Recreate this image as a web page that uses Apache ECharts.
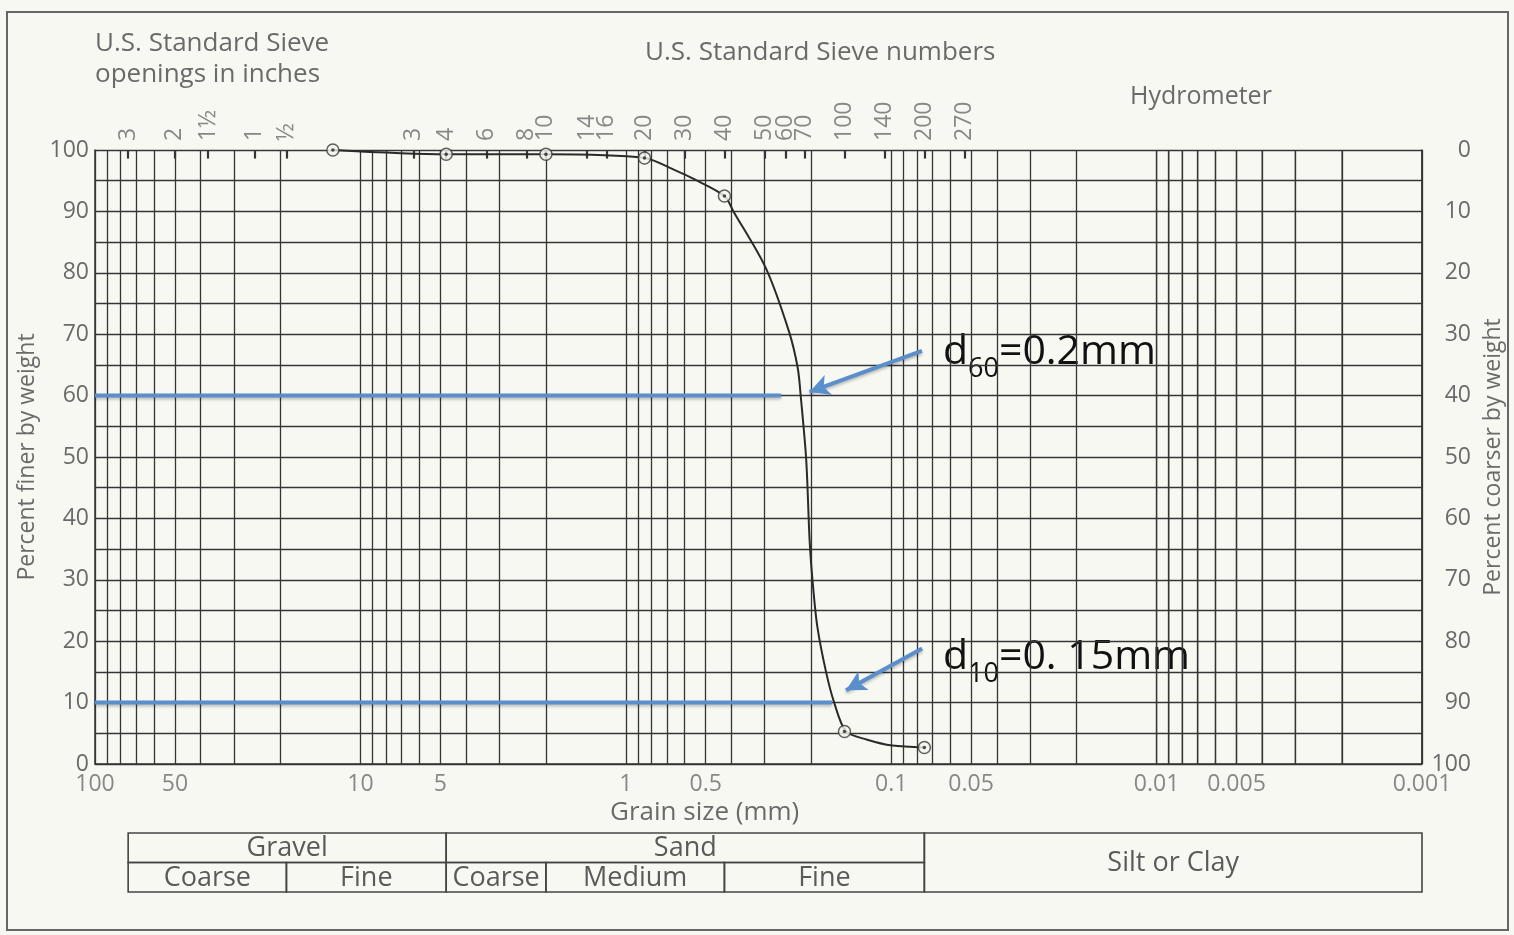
<!DOCTYPE html>
<html>
<head>
<meta charset="utf-8">
<script src="https://cdn.jsdelivr.net/npm/echarts@6/dist/echarts.min.js"></script>
<style>
html,body{margin:0;padding:0;background:#f8f8f3;}
#main{width:1514px;height:935px;}
</style>
</head>
<body>
<div id="main"></div>
<script>
// ---- data ----
const sieveSize = [12.7, 4.75, 2.0, 0.85, 0.425, 0.15, 0.075];          // mm
const percentFiner = [100, 99.3, 99.3, 98.7, 92.5, 5.3, 2.7];

const curveSize = [12.7, 4.75, 2.0, 0.85, 0.66, 0.55, 0.425, 0.393, 0.297, 0.243, 0.225, 0.219, 0.209, 0.203, 0.198, 0.19, 0.176, 0.164, 0.148, 0.124, 0.099, 0.075];
const curvePct  = [100, 99.3, 99.3, 98.7, 96.8, 95.2, 92.5, 90, 80.8, 70.5, 64.5, 59.7, 49.5, 36.5, 30, 22.5, 15, 10, 5.3, 4, 3, 2.7];

const xTickValues = [100, 50, 10, 5, 1, 0.5, 0.1, 0.05, 0.01, 0.005, 0.001];
const xTickLabels = ['100', '50', '10', '5', '1', '0.5', '0.1', '0.05', '0.01', '0.005', '0.001'];

const inchSieveSize = [75, 50, 37.5, 25, 19];
const inchSieveLabels = ['3', '2', '1½', '1', '½'];
const numSieveSize = [6.3, 4.75, 3.35, 2.36, 2.0, 1.4, 1.18, 0.85, 0.6, 0.425, 0.3, 0.25, 0.212, 0.15, 0.106, 0.075, 0.053];
const numSieveLabels = ['3', '4', '6', '8', '10', '14', '16', '20', '30', '40', '50', '60', '70', '100', '140', '200', '270'];

const d60Line = [[100, 60], [0.26, 60]];
const d10Line = [[100, 10], [0.167, 10]];
const d60Arrow = [[0.0766, 67.3], [0.203, 60.6]];
const d10Arrow = [[0.0765, 18.8], [0.148, 12.0]];

// soil classification table: [from mm, to mm, row bottom, row top]
const tableLabels = ['Gravel', 'Sand', 'Silt or Clay', 'Coarse', 'Fine', 'Coarse', 'Medium', 'Fine'];
const tableFrom   = [75, 4.75, 0.075, 75, 19, 4.75, 2.0, 0.425];
const tableTo     = [4.75, 0.075, 0.001, 19, 4.75, 2.0, 0.425, 0.075];
const tableRowLo  = [1, 1, 0, 0, 0, 0, 0, 0];
const tableRowHi  = [2, 2, 2, 1, 1, 1, 1, 1];

// log grid lines (1..9 x 10^k)
const gridVals = [];
for (let k = -3; k <= 1; k++) for (let m = 1; m <= 9; m++) gridVals.push(+(m * Math.pow(10, k)).toPrecision(3));
gridVals.push(100);

const gray = '#6a6a6a';
const lineCol = '#353535';
const blue = '#5b8fcb';
const fontF = '"Open Sans", Lato, sans-serif';

const chart = echarts.init(document.getElementById('main'), null, {renderer: 'canvas'});

const sieveAll = inchSieveSize.concat(numSieveSize);
const sieveLab = inchSieveLabels.concat(numSieveLabels);

const annoRich = {
  a: {fontSize: 41, fontFamily: '"Open Sans", sans-serif', fill: '#111', padding: [0, 0, 10, 0], verticalAlign: 'bottom'},
  s: {fontSize: 27, fontFamily: '"Open Sans", sans-serif', fill: '#111', verticalAlign: 'bottom'}
};

const baseGraphic = [
  {type: 'rect', silent: true, z: -10, shape: {x: 7, y: 12, width: 1501, height: 918},
   style: {fill: 'none', stroke: '#666', lineWidth: 2}},
  {type: 'text', left: 95, top: 28, silent: true,
   style: {text: 'U.S. Standard Sieve\nopenings in inches', fill: gray, font: '26px ' + fontF, lineHeight: 31}},
  {type: 'text', left: 645, top: 40, silent: true,
   style: {text: 'U.S. Standard Sieve numbers', fill: gray, font: '26px ' + fontF}},
  {type: 'text', left: 1130, top: 84, silent: true,
   style: {text: 'Hydrometer', fill: gray, font: '25px ' + fontF}},
  {type: 'text', left: 610, top: 800, silent: true,
   style: {text: 'Grain size (mm)', fill: gray, font: '26px ' + fontF}},
  {type: 'text', left: 943, top: 332, silent: true,
   style: {text: '{a|d}{s|60}{a|=0.2mm}', rich: annoRich}},
  {type: 'text', left: 943, top: 637, silent: true,
   style: {text: '{a|d}{s|10}{a|=0. 15mm}', rich: annoRich}}
];

chart.setOption({
  backgroundColor: '#f8f8f3',
  animation: false,
  grid: [
    {left: 95, right: 92, top: 150, height: 614, outerBoundsMode: 'none', containLabel: false},
    {left: 95, right: 92, top: 833, height: 59, outerBoundsMode: 'none', containLabel: false}
  ],
  xAxis: [
    {type: 'log', logBase: 10, min: 0.001, max: 100, inverse: true, gridIndex: 0,
     axisLine: {show: true, lineStyle: {color: lineCol, width: 1.5}},
     axisTick: {show: false}, axisLabel: {show: false}, splitLine: {show: false}},
    {type: 'log', logBase: 10, min: 0.001, max: 100, inverse: true, gridIndex: 1, show: false}
  ],
  yAxis: [
    {type: 'value', min: 0, max: 100, interval: 10, gridIndex: 0, position: 'left',
     name: 'Percent finer by weight', nameLocation: 'middle', nameGap: 54, nameRotate: 90,
     nameTextStyle: {color: gray, fontFamily: fontF, fontSize: 23},
     axisLine: {show: true, lineStyle: {color: lineCol, width: 1.5}},
     axisTick: {show: false},
     axisLabel: {color: gray, fontFamily: fontF, fontSize: 23, margin: 6},
     splitLine: {show: true, lineStyle: {color: lineCol, width: 1.3}},
     minorTick: {show: false, splitNumber: 2},
     minorSplitLine: {show: true, lineStyle: {color: lineCol, width: 1.3}}},
    {type: 'value', min: 0, max: 100, interval: 10, gridIndex: 0, position: 'right', inverse: true,
     name: 'Percent coarser by weight', nameLocation: 'middle', nameGap: 57, nameRotate: 90,
     nameTextStyle: {color: gray, fontFamily: fontF, fontSize: 23},
     axisLine: {show: true, lineStyle: {color: lineCol, width: 1.5}},
     axisTick: {show: false},
     axisLabel: {color: gray, fontFamily: fontF, fontSize: 23, margin: 49, align: 'right'},
     splitLine: {show: false}},
    {type: 'value', min: 0, max: 2, gridIndex: 1, show: false}
  ],
  graphic: baseGraphic,
  series: [
    // vertical log grid lines
    {type: 'lines', coordinateSystem: 'cartesian2d', xAxisIndex: 0, yAxisIndex: 0, silent: true, z: 1, clip: false,
     data: gridVals.map(v => ({coords: [[v, 0], [v, 100]]})),
     lineStyle: {color: lineCol, width: 1.3, opacity: 1, curveness: 0}},
    // sieve ticks at top
    {type: 'lines', coordinateSystem: 'cartesian2d', xAxisIndex: 0, yAxisIndex: 0, silent: true, z: 3, clip: false,
     data: sieveAll.map(v => ({coords: [[v, 100], [v, 98.6]]})),
     lineStyle: {color: lineCol, width: 2.2, opacity: 1, curveness: 0}},
    // x tick labels
    {type: 'scatter', xAxisIndex: 0, yAxisIndex: 0, symbolSize: 0, silent: true,
     data: xTickValues.map(v => [v, 0]),
     label: {show: true, position: 'bottom', distance: 9, color: gray, fontFamily: fontF, fontSize: 23,
       formatter: p => xTickLabels[p.dataIndex]}},
    // sieve labels at top
    {type: 'scatter', xAxisIndex: 0, yAxisIndex: 0, symbolSize: 0, silent: true,
     data: sieveAll.map(v => [v, 100]),
     label: {show: true, position: 'top', distance: 9, rotate: 90, align: 'left', verticalAlign: 'middle',
       color: gray, fontFamily: fontF, fontSize: 23,
       formatter: p => sieveLab[p.dataIndex]}},
    // d60 / d10 guide lines
    {type: 'line', xAxisIndex: 0, yAxisIndex: 0, data: d60Line, symbol: 'none', silent: true, z: 4,
     lineStyle: {color: blue, width: 4, shadowColor: 'rgba(0,0,0,0.25)', shadowBlur: 3, shadowOffsetY: 2}},
    {type: 'line', xAxisIndex: 0, yAxisIndex: 0, data: d10Line, symbol: 'none', silent: true, z: 4,
     lineStyle: {color: blue, width: 4, shadowColor: 'rgba(0,0,0,0.25)', shadowBlur: 3, shadowOffsetY: 2}},
    // arrows
    {type: 'line', xAxisIndex: 0, yAxisIndex: 0, data: [], silent: true, z: 5,
     markLine: {silent: true, symbol: ['none', 'arrow'], symbolSize: [16, 20], label: {show: false}, animation: false,
       lineStyle: {color: blue, width: 4, type: 'solid', shadowColor: 'rgba(0,0,0,0.25)', shadowBlur: 3, shadowOffsetY: 2},
       data: [
         [{coord: d60Arrow[0]}, {coord: d60Arrow[1]}],
         [{coord: d10Arrow[0]}, {coord: d10Arrow[1]}]
       ]}},
    // gradation curve
    {type: 'line', xAxisIndex: 0, yAxisIndex: 0, data: curveSize.map((v, i) => [v, curvePct[i]]),
     symbol: 'none', smooth: 0.3, silent: true, z: 6,
     lineStyle: {color: '#2a2a2a', width: 2}},
    // sieve data points
    {type: 'scatter', xAxisIndex: 0, yAxisIndex: 0, data: sieveSize.map((v, i) => [v, percentFiner[i]]),
     symbol: 'circle', symbolSize: 12, silent: true, z: 7,
     itemStyle: {color: '#f4f4ef', borderColor: '#3a3a3a', borderWidth: 1.5}},
    {type: 'scatter', xAxisIndex: 0, yAxisIndex: 0, data: sieveSize.map((v, i) => [v, percentFiner[i]]),
     symbol: 'circle', symbolSize: 3.5, silent: true, z: 8,
     itemStyle: {color: '#222'}},
    // classification table
    {type: 'custom', xAxisIndex: 1, yAxisIndex: 2, silent: true,
     data: tableLabels.map((t, i) => [tableFrom[i], tableTo[i], tableRowLo[i], tableRowHi[i]]),
     renderItem: function (params, api) {
       const i = params.dataIndex;
       const p0 = api.coord([api.value(0), api.value(3)]);
       const p1 = api.coord([api.value(1), api.value(2)]);
       const x = Math.min(p0[0], p1[0]), w = Math.abs(p1[0] - p0[0]);
       const y = Math.min(p0[1], p1[1]), h = Math.abs(p1[1] - p0[1]);
       return {type: 'group', children: [
         {type: 'rect', shape: {x: x, y: y, width: w, height: h},
          style: {fill: 'none', stroke: '#444', lineWidth: 1.6}},
         {type: 'text', style: {text: tableLabels[i], x: x + w / 2, y: y + h / 2 + 1, align: 'center', verticalAlign: 'middle',
           fill: '#5a5a5a', font: '27px ' + fontF}}
       ]};
     }}
  ]
});

// extra guard: draw the fine-silt decade grid lines through the axis scale as graphics as well
const extraLines = gridVals.filter(v => v <= 0.0105).map(v => {
  const a = chart.convertToPixel({gridIndex: 0}, [v, 0]);
  const b = chart.convertToPixel({gridIndex: 0}, [v, 100]);
  return {type: 'line', silent: true, z: 3,
          shape: {x1: a[0], y1: a[1], x2: b[0], y2: b[1]},
          style: {stroke: lineCol, lineWidth: 1.3}};
});
chart.setOption({graphic: baseGraphic.concat(extraLines)});
</script>
</body>
</html>
